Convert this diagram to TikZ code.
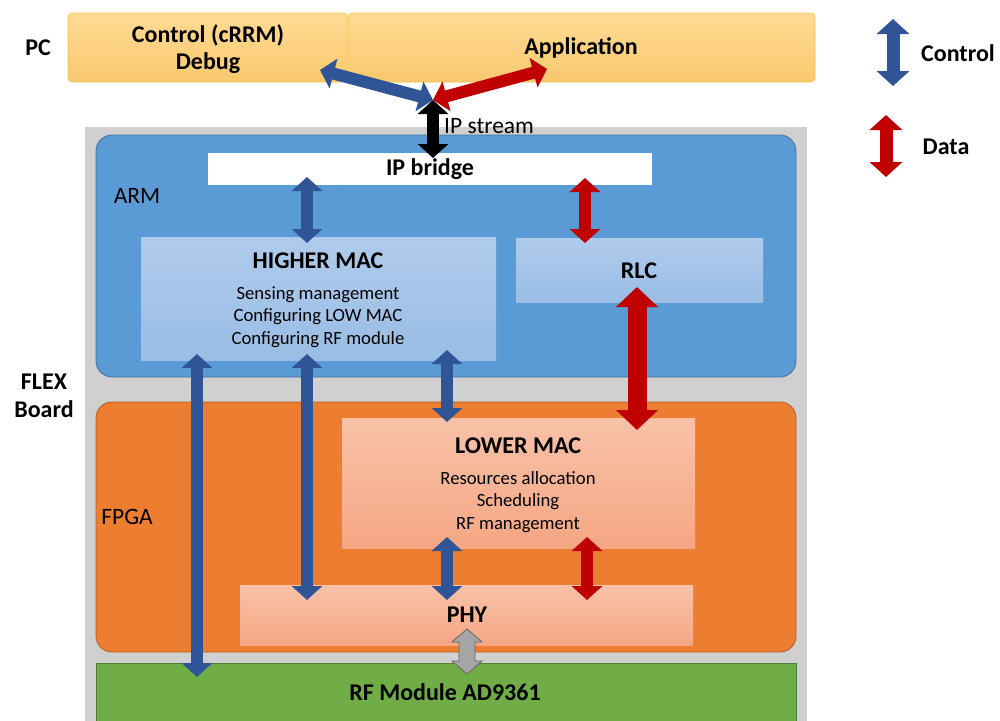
\documentclass[tikz,border=0pt]{standalone}
\usepackage{fontspec}
\setmainfont{Carlito}
\usetikzlibrary{arrows.meta}
\definecolor{pcTop}{HTML}{FFDB94}
\definecolor{pcBot}{HTML}{F9C86E}
\definecolor{pcLine}{HTML}{F2C052}
\definecolor{armFill}{HTML}{5B9BD5}
\definecolor{armLine}{HTML}{41719C}
\definecolor{hmTop}{HTML}{AFCBEB}
\definecolor{hmBot}{HTML}{9ABDE5}
\definecolor{fpgaFill}{HTML}{ED7D31}
\definecolor{fpgaLine}{HTML}{B35D22}
\definecolor{lmTop}{HTML}{F8C2A9}
\definecolor{lmBot}{HTML}{F5A683}
\definecolor{rfFill}{HTML}{70AD47}
\definecolor{rfLine}{HTML}{507E32}
\definecolor{boardFill}{HTML}{D0D0D0}
\definecolor{ctrlBlue}{HTML}{2F5597}
\definecolor{dataRed}{HTML}{C00000}
\definecolor{grayArrow}{HTML}{A6A6A6}
\tikzset{
  hd/.style={font=\fontsize{24}{28}\selectfont\bfseries},
  bd/.style={font=\fontsize{18.7}{22.5}\selectfont, align=center},
  lb/.style={font=\fontsize{23.5}{28}\selectfont},
  dbl/.style={line width=12pt, {Triangle[width=30pt,length=14pt]}-{Triangle[width=30pt,length=14pt]}},
  dblthick/.style={line width=19pt, {Triangle[width=41pt,length=20pt]}-{Triangle[width=41pt,length=20pt]}},
  ctrl/.style={dbl, draw=ctrlBlue},
  data/.style={dbl, draw=dataRed},
}
\begin{document}
\begin{tikzpicture}[x=1pt,y=-1pt]
\useasboundingbox (0,0) rectangle (1000,720);
% board
\fill[boardFill] (85,127) rectangle (807,725);
% PC boxes
\shade[top color=pcTop,bottom color=pcBot,draw=pcLine,line width=0.6pt,rounded corners=4pt] (68,13) rectangle (347,82);
\shade[top color=pcTop,bottom color=pcBot,draw=pcLine,line width=0.6pt,rounded corners=4pt] (348,13) rectangle (815,82);
\node[hd] (ctl1) at (208,35) {Control (cRRM)};
\node[hd] (ctl2) at (208,63) {Debug};
\node[hd] (app) at (581,48) {Application};
\node[hd] (pc) at (38,48) {PC};
% ARM
\draw[fill=armFill,draw=armLine,line width=0.8pt,rounded corners=16pt] (96,135) rectangle (796,377);
\fill[white] (208,153) rectangle (652,185);
\node[hd] (ipb) at (430,169) {IP bridge};
\node[lb] (arm) at (137,196) {ARM};
\shade[top color=hmTop,bottom color=hmBot] (141,237) rectangle (496,360);
\node[hd] (hmac) at (318,261) {HIGHER MAC};
\node[bd] (hmtxt) at (318,317) {Sensing management\\Configuring LOW MAC\\Configuring RF module};
\shade[top color=hmTop,bottom color=hmBot] (516,238) rectangle (763,302);
\node[hd] (rlc) at (639,271) {RLC};
% FPGA
\draw[fill=fpgaFill,draw=fpgaLine,line width=0.8pt,rounded corners=16pt] (96,402) rectangle (796,652);
\node[lb] (fpga) at (127,517) {FPGA};
\shade[top color=lmTop,bottom color=lmBot] (342,418) rectangle (695,548);
\node[hd] (lmac) at (518,446) {LOWER MAC};
\node[bd] (lmtxt) at (518,502) {Resources allocation\\Scheduling\\RF management};
\shade[top color=lmTop,bottom color=lmBot] (240,585) rectangle (693,645);
\node[hd] (phy) at (467,615) {PHY};
% RF
\draw[fill=rfFill,draw=rfLine,line width=0.8pt] (96,663) rectangle (796,725);
\node[hd] (rf) at (445,692) {RF Module AD9361};
% board label
\node[hd,align=center] (flex) at (44,396) {FLEX\\Board};
% legend
\node[hd] (lgc) at (958,53) {Control};
\node[hd] (lgd) at (946,147) {Data};
\coordinate (lc1) at (893,19); \coordinate (lc2) at (893,86);
\coordinate (ld1) at (886,115); \coordinate (ld2) at (886,177);
\draw[ctrl,line width=13pt,{Triangle[width=32pt,length=15pt]}-{Triangle[width=32pt,length=15pt]}] (lc1) -- (lc2);
\draw[data,line width=13pt,{Triangle[width=32pt,length=15pt]}-{Triangle[width=32pt,length=15pt]}] (ld1) -- (ld2);
% IP stream arrows
\coordinate (hub) at (433,100);
\coordinate (pcl) at (320,70);
\coordinate (pcr) at (547,69);
\coordinate (ipt) at (433,158);
\draw[dbl,draw=black] (hub) -- (ipt);
\draw[ctrl] (pcl) -- (hub);
\draw[data] (pcr) -- (hub);
\node[lb,anchor=west,inner sep=0pt] (ips) at (444,126) {IP stream};
% inner arrows
\coordinate (a1) at (307,177); \coordinate (a2) at (307,243);
\draw[ctrl] (a1) -- (a2);
\coordinate (b1) at (585,178); \coordinate (b2) at (585,243);
\draw[data] (b1) -- (b2);
\coordinate (c1) at (197,354); \coordinate (c2) at (197,677);
\draw[ctrl] (c1) -- (c2);
\coordinate (d1) at (307,354); \coordinate (d2) at (307,600);
\draw[ctrl] (d1) -- (d2);
\coordinate (e1) at (447,350); \coordinate (e2) at (447,422);
\draw[ctrl] (e1) -- (e2);
\coordinate (f1) at (637,287); \coordinate (f2) at (637,430);
\draw[dblthick,draw=dataRed] (f1) -- (f2);
\coordinate (g1) at (447,537); \coordinate (g2) at (447,600);
\draw[ctrl] (g1) -- (g2);
\coordinate (h1) at (587,537); \coordinate (h2) at (587,600);
\draw[data] (h1) -- (h2);
% gray arrow
\draw[fill=grayArrow,draw=black!60,line width=0.8pt]
  (467,629) -- (482,642) -- (475,642) -- (475,661) -- (482,661) -- (467,674)
  -- (452,661) -- (459,661) -- (459,642) -- (452,642) -- cycle;
\end{tikzpicture}
\end{document}
